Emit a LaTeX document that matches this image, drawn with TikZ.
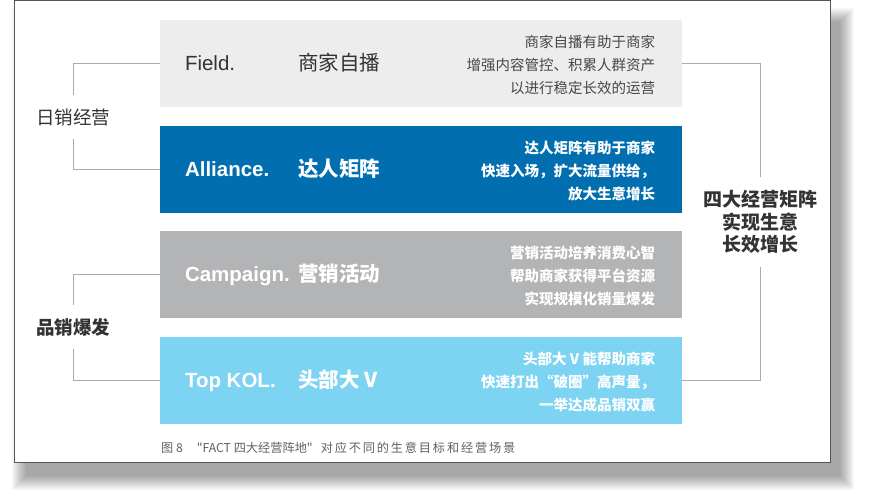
\documentclass[tikz,border=0pt]{standalone}
\usepackage{fontspec}
\setmainfont{Liberation Sans}
\newfontfamily\cjk{Noto Sans CJK SC}
\newfontfamily\cjkwide[LetterSpace=15]{Noto Sans CJK SC}
\usetikzlibrary{positioning}
\definecolor{fieldgray}{HTML}{EDEDED}
\definecolor{allianceblue}{HTML}{006EAF}
\definecolor{campaigngray}{HTML}{B3B4B6}
\definecolor{kolblue}{HTML}{7DD3F2}
\definecolor{linegray}{HTML}{ABABAB}
\definecolor{framegray}{HTML}{555555}
\definecolor{textgray}{HTML}{333333}
\tikzset{
  bar/.style={minimum width=522pt, minimum height=87pt, inner sep=0pt},
  title/.style={anchor=base west, inner sep=0pt, font=\fontsize{20.5}{24}\selectfont},
  desc/.style={anchor=east, align=right, inner sep=0pt, font=\cjk\fontsize{14.5}{23}\selectfont},
  group/.style={inner sep=0pt, outer sep=13pt, text=textgray},
  brace/.style={draw=linegray, line width=0.8pt}
}
\begin{document}
\begin{tikzpicture}[x=1pt, y=-1pt]
\useasboundingbox (0,0) rectangle (872,503);
% soft shadow under the frame
\foreach \k in {0,...,14}
  \fill[black, opacity=0.028] (26-\k,22-\k) rectangle (840+\k,476+\k);
\draw[framegray, fill=white, line width=1pt] (14,1) rectangle (830,462);

% the four bars
\node[bar, fill=fieldgray] (field) at (421,63.5) {};
\node[bar, fill=allianceblue] (alliance) at (421,169) {};
\node[bar, fill=campaigngray] (campaign) at (421,274.5) {};
\node[bar, fill=kolblue] (kol) at (421,380) {};

% titles
\node[title, text=textgray] (fieldEn) at ([shift={(25pt,-7.3pt)}]field.west) {Field.};
\node[title, text=textgray] (fieldCn) at ([shift={(138pt,-7.3pt)}]field.west) {\cjk 商家自播};
\node[title, text=white] (allianceEn) at ([shift={(25pt,-7.3pt)}]alliance.west) {\bfseries Alliance.};
\node[title, text=white] (allianceCn) at ([shift={(138pt,-7.3pt)}]alliance.west) {\cjk\bfseries 达人矩阵};
\node[title, text=white] (campaignEn) at ([shift={(25pt,-7.3pt)}]campaign.west) {\bfseries Campaign.};
\node[title, text=white] (campaignCn) at ([shift={(138pt,-7.3pt)}]campaign.west) {\cjk\bfseries 营销活动};
\node[title, text=white] (kolEn) at ([shift={(25pt,-7.3pt)}]kol.west) {\bfseries Top KOL.};
\node[title, text=white] (kolCn) at ([shift={(138pt,-7.3pt)}]kol.west) {\cjk\bfseries 头部大 V};

% descriptions
\node[desc, text=black!72] (fieldTxt) at ([shift={(-27pt,-1.5pt)}]field.east)
  {商家自播有助于商家\\增强内容管控、积累人群资产\\以进行稳定长效的运营};
\node[desc, text=white] (allianceTxt) at ([shift={(-27pt,-1.5pt)}]alliance.east)
  {\bfseries 达人矩阵有助于商家\\\bfseries 快速入场，扩大流量供给，\\\bfseries 放大生意增长};
\node[desc, text=white] (campaignTxt) at ([shift={(-27pt,-1.5pt)}]campaign.east)
  {\bfseries 营销活动培养消费心智\\\bfseries 帮助商家获得平台资源\\\bfseries 实现规模化销量爆发};
\node[desc, text=white] (kolTxt) at ([shift={(-27pt,-1.5pt)}]kol.east)
  {\bfseries 头部大 V 能帮助商家\\\bfseries 快速打出“破圈”高声量，\\\bfseries 一举达成品销双赢};

% group labels
\node[group, font=\cjk\fontsize{18.5}{22}\selectfont] (daily) at (73,117) {日销经营};
\node[group, font=\cjk\bfseries\fontsize{18.5}{22}\selectfont] (burst) at (73,327) {品销爆发};
\node[group, align=center, font=\cjk\bfseries\fontsize{19}{22.5}\selectfont] (matrix) at (760,222)
  {四大经营矩阵\\实现生意\\长效增长};

\draw[brace] (daily) |- (field.west);
\draw[brace] (daily) |- (alliance.west);
\draw[brace] (burst) |- (campaign.west);
\draw[brace] (burst) |- (kol.west);
\draw[brace] (matrix) |- (field.east);
\draw[brace] (matrix) |- (kol.east);

% caption
\node[anchor=west, inner sep=0pt, text=black!62, font=\cjk\fontsize{12.2}{14}\selectfont] (caption) at (161,448)
  {图 8\hspace{14pt}"FACT 四大经营阵地"\hspace{8pt}{\cjkwide 对应不同的生意目标和经营场景}};
\end{tikzpicture}
\end{document}
